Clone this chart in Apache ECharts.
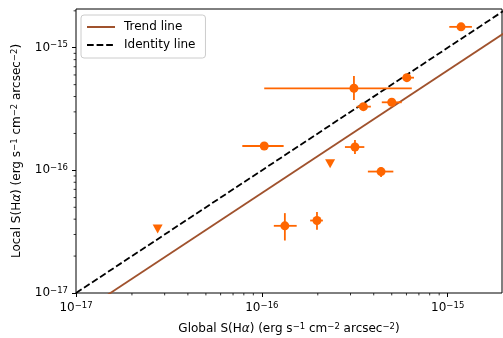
<!DOCTYPE html>
<html><head><meta charset="utf-8">
<script src="https://cdn.jsdelivr.net/npm/echarts@6/dist/echarts.min.js"></script>
<style>html,body{margin:0;padding:0;background:#fff}#c{width:503px;height:338px}</style>
</head><body><div id="c"></div>
<script>
// Axis ranges and ticks
const X_MIN = 1e-17, X_MAX = 1.96e-15;
const Y_MIN = 1e-17, Y_MAX = 2.07e-15;
const majorTicks = [1e-17, 1e-16, 1e-15];
const tickLabels = ['10{s|−17}', '10{s|−16}', '10{s|−15}'];
const minorMultipliers = [2, 3, 4, 5, 6, 7, 8, 9];

// Detections with error bars
const detX   = [1.18e-15, 3.13e-16, 6.03e-16, 3.52e-16, 5.00e-16, 1.03e-16, 3.17e-16, 4.38e-16, 1.33e-16, 1.98e-16];
const detXlo = [1.02e-15, 1.03e-16, 5.66e-16, 3.24e-16, 4.42e-16, 7.85e-17, 2.80e-16, 3.72e-16, 1.16e-16, 1.82e-16];
const detXhi = [1.35e-15, 6.41e-16, 6.59e-16, 3.86e-16, 5.66e-16, 1.31e-16, 3.56e-16, 5.10e-16, 1.54e-16, 2.13e-16];
const detY   = [1.48e-15, 4.67e-16, 5.70e-16, 3.31e-16, 3.59e-16, 1.58e-16, 1.55e-16, 9.78e-17, 3.53e-17, 3.90e-17];
const detYlo = [1.48e-15, 3.75e-16, 5.70e-16, 3.31e-16, 3.59e-16, 1.58e-16, 1.36e-16, 8.81e-17, 2.68e-17, 3.28e-17];
const detYhi = [1.48e-15, 5.88e-16, 5.70e-16, 3.31e-16, 3.59e-16, 1.58e-16, 1.77e-16, 1.06e-16, 4.48e-17, 4.57e-17];

// Upper limits
const limX = [2.33e-16, 2.75e-17];
const limY = [1.13e-16, 3.32e-17];

// Lines
const trendX = [1e-17, 2e-15];
const trendY = [6.53e-18, 1.306e-15];
const identX = [1e-17, 2e-15];
const identY = [1e-17, 2e-15];

const ORANGE = '#ff6600';
const FONT = 'DejaVu Sans';

const chart = echarts.init(document.getElementById('c'), null, {renderer: 'canvas'});

const supRich = {
  s: {fontSize: 8.5, lineHeight: 8, verticalAlign: 'top', fontFamily: FONT, color: '#000'},
  a: {fontStyle: 'italic', fontSize: 12, lineHeight: 14, fontFamily: FONT, color: '#000'}
};

function tickFormatter(v) {
  for (let i = 0; i < majorTicks.length; i++) {
    if (Math.abs(Math.log10(v) - Math.log10(majorTicks[i])) < 1e-6) return tickLabels[i];
  }
  return '';
}

const errData = detX.map((x, i) => [x, detY[i], detXlo[i], detXhi[i], detYlo[i], detYhi[i]]);

const minorData = [];
majorTicks.forEach(d => minorMultipliers.forEach(m => {
  const v = d * m;
  if (v > X_MIN && v < X_MAX) minorData.push([v, Y_MIN, 0]);
  if (v > Y_MIN && v < Y_MAX) minorData.push([X_MIN, v, 1]);
}));

const option = {
  animation: false,
  backgroundColor: '#fff',
  grid: {left: 76, right: 1, top: 9, bottom: 45, containLabel: false, outerBoundsMode: 'none',
         show: true, borderColor: '#000', borderWidth: 1, backgroundColor: 'transparent'},
  legend: {
    data: ['Trend line', 'Identity line'],
    orient: 'vertical', left: 81, top: 15,
    padding: [6, 10, 7, 5], itemGap: 6, itemWidth: 28, itemHeight: 12,
    backgroundColor: 'rgba(255,255,255,0.8)', borderColor: '#cccccc', borderWidth: 1, borderRadius: 3,
    itemStyle: {opacity: 0},
    textStyle: {fontFamily: FONT, fontSize: 12, color: '#000', padding: [0, 0, 0, 4]}
  },
  xAxis: {
    type: 'log', logBase: 10, min: X_MIN, max: X_MAX,
    name: 'Global S(H{a|α}) (erg s{s|−1} cm{s|−2} arcsec{s|−2})',
    nameLocation: 'middle', nameGap: 29,
    nameTextStyle: {fontFamily: FONT, fontSize: 12, lineHeight: 14, color: '#000', rich: supRich},
    axisLine: {show: false},
    splitLine: {show: false},
    axisTick: {show: true, length: 4, lineStyle: {color: '#000', width: 1}},
    axisLabel: {formatter: tickFormatter, margin: 8, fontFamily: FONT, fontSize: 12, lineHeight: 14, color: '#000', rich: supRich, showMaxLabel: false}
  },
  yAxis: {
    type: 'log', logBase: 10, min: Y_MIN, max: Y_MAX,
    name: 'Local S(H{a|α}) (erg s{s|−1} cm{s|−2} arcsec{s|−2})',
    nameLocation: 'middle', nameGap: 52,
    nameTextStyle: {fontFamily: FONT, fontSize: 12, lineHeight: 14, color: '#000', rich: supRich},
    axisLine: {show: false},
    splitLine: {show: false},
    axisTick: {show: true, length: 4, lineStyle: {color: '#000', width: 1}},
    axisLabel: {formatter: tickFormatter, margin: 8, fontFamily: FONT, fontSize: 12, lineHeight: 14, color: '#000', rich: supRich, showMaxLabel: false}
  },
  series: [
    {
      name: 'Trend line', type: 'line', symbol: 'none', z: 2, clip: true,
      data: trendX.map((x, i) => [x, trendY[i]]),
      lineStyle: {color: '#a0522d', width: 1.8}, itemStyle: {color: '#a0522d'}
    },
    {
      name: 'Identity line', type: 'line', symbol: 'none', z: 2, clip: true,
      data: identX.map((x, i) => [x, identY[i]]),
      lineStyle: {color: '#000', width: 1.8, type: [6.7, 2.9]}, itemStyle: {color: '#000'}
    },
    {
      name: 'errors', type: 'custom', z: 3, silent: true,
      data: errData, encode: {x: 0, y: 1},
      renderItem: function (params, api) {
        const x = api.value(0), y = api.value(1);
        const a = api.coord([api.value(2), y]), b = api.coord([api.value(3), y]);
        const c = api.coord([x, api.value(4)]), d = api.coord([x, api.value(5)]);
        const st = {stroke: ORANGE, lineWidth: 1.8};
        return {type: 'group', children: [
          {type: 'line', shape: {x1: a[0], y1: a[1], x2: b[0], y2: b[1]}, style: st},
          {type: 'line', shape: {x1: c[0], y1: c[1], x2: d[0], y2: d[1]}, style: st}
        ]};
      }
    },
    {
      name: 'detections', type: 'scatter', z: 4, symbol: 'circle', symbolSize: 9,
      data: detX.map((x, i) => [x, detY[i]]),
      itemStyle: {color: ORANGE, opacity: 1}
    },
    {
      name: 'limits', type: 'scatter', z: 4, symbol: 'triangle', symbolRotate: 180, symbolSize: [10, 9],
      data: limX.map((x, i) => [x, limY[i]]),
      itemStyle: {color: ORANGE, opacity: 1}
    },
    {
      name: 'minor', type: 'custom', z: 5, silent: true, clip: false,
      data: minorData, encode: {x: 0, y: 1},
      renderItem: function (params, api) {
        const p = api.coord([api.value(0), api.value(1)]);
        const kind = api.value(2);
        const shape = kind === 0
          ? {x1: p[0], y1: p[1], x2: p[0], y2: p[1] + 2.4}
          : {x1: p[0], y1: p[1], x2: p[0] - 2.4, y2: p[1]};
        return {type: 'line', shape: shape, style: {stroke: '#000', lineWidth: 0.8}};
      }
    }
  ]
};
chart.setOption(option);
</script>
</body></html>
